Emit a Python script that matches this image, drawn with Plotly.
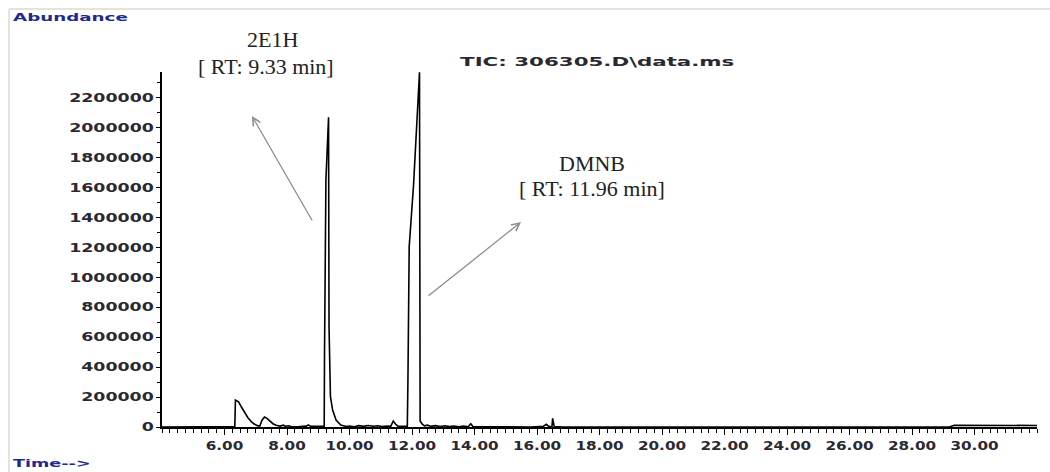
import plotly.graph_objects as go

# Total ion chromatogram (TIC) of sample 306305.D
rt_min = [
    4.00, 6.33, 6.35, 6.45, 6.55, 6.65, 6.75, 6.85, 6.95, 7.05, 7.13, 7.20, 7.28,
    7.36, 7.45, 7.55, 7.65, 7.78, 7.88, 7.95, 8.05, 8.15, 8.40, 8.62, 8.68, 8.75,
    8.90, 9.05, 9.16, 9.19, 9.20, 9.245, 9.33, 9.345, 9.39, 9.46, 9.57, 9.72, 9.90,
    10.00, 10.15, 10.30, 10.45, 10.60, 10.75, 10.90, 11.05, 11.20, 11.32, 11.40,
    11.47, 11.55, 11.70, 11.85, 11.87, 11.91, 12.05, 12.16, 12.24, 12.26, 12.32,
    12.40, 12.50, 12.60, 12.75, 12.90, 13.05, 13.20, 13.35, 13.50, 13.65, 13.80,
    13.88, 13.95, 14.20, 14.60, 15.20, 15.80, 16.20, 16.30, 16.38, 16.48, 16.50,
    16.55, 16.80, 29.20, 29.35, 32.00,
]
abundance = [
    0, 3000, 180000, 168000, 130000, 95000, 62000, 38000, 20000, 9000, 6000, 45000,
    66000, 58000, 40000, 22000, 12000, 6000, 12000, 5000, 8000, 2000, 3000, 6000,
    14000, 5000, 4000, 5000, 4000, 5000, 468000, 1650000, 2070000, 670000, 203000,
    114000, 47000, 13000, 3000, 6000, 2000, 9000, 4000, 10000, 5000, 8000, 3000,
    7000, 4000, 40000, 20000, 6000, 4000, 5000, 314000, 1205000, 1618000, 2108000,
    2370000, 40000, 20000, 8000, 12000, 4000, 9000, 3000, 8000, 3000, 7000, 2000,
    6000, 2000, 22000, 3000, 2000, 1000, 0, 0, 4000, 18000, 3000, 4000, 58000, 3000,
    0, 0, 12000, 10000,
]

x_tick_vals = [6, 8, 10, 12, 14, 16, 18, 20, 22, 24, 26, 28, 30]
y_tick_vals = [0, 200000, 400000, 600000, 800000, 1000000, 1200000, 1400000,
               1600000, 1800000, 2000000, 2200000]

peak_names = ["2E1H", "DMNB"]
peak_rt_labels = ["[ RT: 9.33 min]", "[ RT: 11.96 min]"]

# plot-area geometry in pixels, used to place free text in paper coordinates
PL, PT, PW, PH = 162, 72, 875, 355


def px(x):
    return (x - PL) / PW


def py(y):
    return (PT + PH - y) / PH


tick_font = dict(family="DejaVu Sans", size=12, color="#2b2833", weight="bold")
serif = dict(family="Liberation Serif", size=22, color="#222222")
blue_font = dict(family="DejaVu Sans", size=11, color="#1f2a8c", weight="bold")

fig = go.Figure(
    go.Scatter(
        x=rt_min, y=abundance, mode="lines",
        line=dict(color="#000000", width=1.6), showlegend=False,
    )
)

fig.update_xaxes(
    range=[4, 32], tickvals=x_tick_vals, tickformat=".2f",
    ticks="outside", ticklen=6, tickwidth=1.2, tickcolor="#000",
    minor=dict(dtick=0.25, tick0=4, ticks="outside", ticklen=4, tickwidth=1, tickcolor="#000"),
    showline=True, linecolor="#000", linewidth=1.5,
    showgrid=False, zeroline=False, tickfont=tick_font, ticklabelstandoff=1,
)
fig.update_yaxes(
    range=[0, 2372000], tickvals=y_tick_vals, tickformat="d",
    ticks="outside", ticklen=4, tickwidth=1.2, tickcolor="#000",
    minor=dict(dtick=100000, ticks="outside", ticklen=3, tickwidth=1, tickcolor="#000"),
    showline=True, linecolor="#000", linewidth=1.5,
    showgrid=False, zeroline=False, tickfont=tick_font, ticklabelstandoff=0,
)

annotations = [
    dict(text="Abundance", x=px(11), y=py(18), xanchor="left", yanchor="middle", font=blue_font),
    dict(text="Time-->", x=px(11), y=py(463), xanchor="left", yanchor="middle", font=blue_font),
    dict(text="TIC: 306305.D\\data.ms", x=px(458), y=py(62), xanchor="left", yanchor="middle",
         font=dict(family="DejaVu Sans", size=12, color="#2b2833", weight="bold")),
    dict(text=peak_names[0], x=px(272), y=py(40), xanchor="center", yanchor="middle", font=serif),
    dict(text=peak_rt_labels[0], x=px(266), y=py(66), xanchor="center", yanchor="middle", font=serif),
    dict(text=peak_names[1], x=px(592), y=py(163), xanchor="center", yanchor="middle", font=serif),
    dict(text=peak_rt_labels[1], x=px(592), y=py(188), xanchor="center", yanchor="middle", font=serif),
    # pointer arrows
    dict(text="", x=px(252), y=py(116), ax=61, ay=106, showarrow=True, arrowhead=5,
         arrowsize=1.2, arrowwidth=1.3, arrowcolor="#8c8c8c", standoff=0),
    dict(text="", x=px(521), y=py(222), ax=-94, ay=75, showarrow=True, arrowhead=5,
         arrowsize=1.2, arrowwidth=1.3, arrowcolor="#8c8c8c", standoff=0),
]
for a in annotations:
    a.setdefault("showarrow", False)
    a["xref"] = "paper"
    a["yref"] = "paper"

shapes = [
    dict(type="line", xref="paper", yref="paper", x0=px(9), x1=px(1050), y0=py(9), y1=py(9),
         line=dict(color="#dedace", width=1.5)),
    dict(type="line", xref="paper", yref="paper", x0=px(9), x1=px(9), y0=py(9), y1=py(472),
         line=dict(color="#dedace", width=1.5)),
]

fig.update_layout(
    width=1050, height=472, autosize=False,
    margin=dict(l=PL, r=1050 - PL - PW, t=PT, b=472 - PT - PH),
    paper_bgcolor="#ffffff", plot_bgcolor="#ffffff",
    annotations=annotations, shapes=shapes,
)

# horizontally stretch the instrument-style sans labels (wide ChemStation look),
# keeping each label pinned at its anchor edge
stretch_js = """
var gd = document.getElementById('{plot_id}');
function widen(t, s, anchor) {
  var cur = t.getAttribute('transform') || '';
  if (t.__wideT !== undefined && t.__wideT === cur) return;
  var b = t.getBBox();
  var ax = anchor === 'end' ? b.x + b.width : (anchor === 'middle' ? b.x + b.width / 2 : b.x);
  var nt = (cur ? cur + ' ' : '') + 'translate(' + ax + ',0) scale(' + s + ',1) translate(' + (-ax) + ',0)';
  t.setAttribute('transform', nt);
  t.__wideT = nt;
}
function stretchLabels() {
  gd.querySelectorAll('.ytick text').forEach(function (t) { widen(t, 1.45, 'end'); });
  gd.querySelectorAll('.xtick text').forEach(function (t) { widen(t, 1.27, 'middle'); });
  var factors = {0: 1.66, 1: 1.6, 2: 1.78};
  gd.querySelectorAll('g.annotation').forEach(function (g) {
    var idx = g.getAttribute('data-index');
    if (idx in factors) {
      g.querySelectorAll('text').forEach(function (t) { widen(t, factors[idx], 'start'); });
    }
  });
}
stretchLabels();
gd.on('plotly_afterplot', stretchLabels);
"""

fig.write_html("out.html", post_script=stretch_js)
